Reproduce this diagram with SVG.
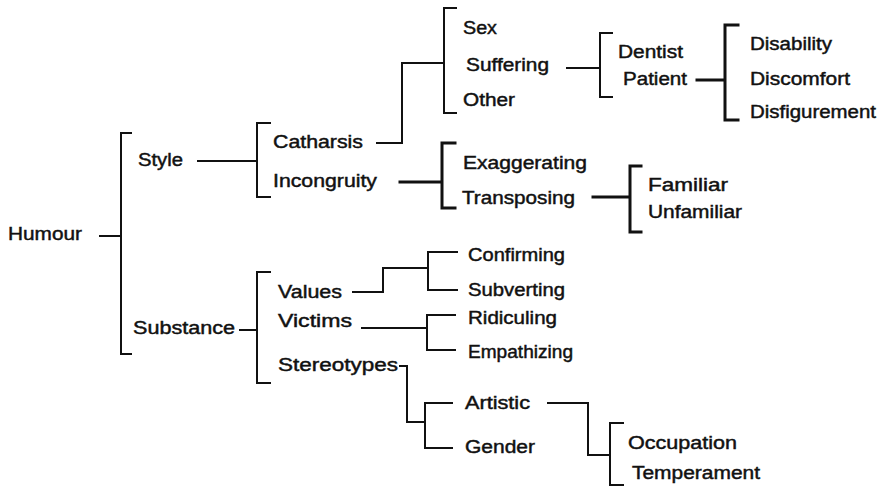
<svg xmlns="http://www.w3.org/2000/svg" width="886" height="487" viewBox="0 0 886 487">
<style>
text{font-family:"Liberation Sans",Arial,sans-serif;font-size:18px;fill:#111;stroke:#111;stroke-width:0.45}
.c{fill:none;stroke:#111;stroke-width:2;stroke-linecap:square;stroke-linejoin:miter}
.t{stroke-width:3}
</style>
<rect width="886" height="487" fill="#fff"/>
<g id="connectors">
<path class="c" d="M100,236H121M131,133H121V354H131"/>
<path class="c" d="M198,161H257M270,123H257V197H270"/>
<path class="c" d="M240,330H257M270,272H257V383H270"/>
<path class="c" d="M377,143H402V63H443M456,8H444V113H456"/>
<path class="c t" d="M400,182H442M455,143H442V208H455"/>
<path class="c" d="M567,68H600M612,33H600V97H612"/>
<path class="c t" d="M697,80H724M738,25H725V120H738"/>
<path class="c t" d="M593,197H630M641,166H630V232H641"/>
<path class="c" d="M353,292H383V268H428M457,252H428V290H457"/>
<path class="c" d="M362,328H427M455,315H427V350H455"/>
<path class="c" d="M400,366H407V422H425M452,403H425V448H452"/>
<path class="c" d="M548,403H588V455H610M623,423H610V485H623"/>
</g>
<g id="n-humour"><text x="8" y="240" textLength="74" lengthAdjust="spacingAndGlyphs">Humour</text></g>
<g id="n-style"><text x="138" y="166" textLength="45" lengthAdjust="spacingAndGlyphs">Style</text></g>
<g id="n-substance"><text x="133" y="334" textLength="102" lengthAdjust="spacingAndGlyphs">Substance</text></g>
<g id="n-catharsis"><text x="273" y="148" textLength="90" lengthAdjust="spacingAndGlyphs">Catharsis</text></g>
<g id="n-incongruity"><text x="273" y="187" textLength="104" lengthAdjust="spacingAndGlyphs">Incongruity</text></g>
<g id="n-sex"><text x="463" y="34" textLength="34" lengthAdjust="spacingAndGlyphs">Sex</text></g>
<g id="n-suffering"><text x="466" y="71" textLength="83" lengthAdjust="spacingAndGlyphs">Suffering</text></g>
<g id="n-other"><text x="463" y="106" textLength="52" lengthAdjust="spacingAndGlyphs">Other</text></g>
<g id="n-exaggerating"><text x="463" y="169" textLength="124" lengthAdjust="spacingAndGlyphs">Exaggerating</text></g>
<g id="n-transposing"><text x="462" y="204" textLength="113" lengthAdjust="spacingAndGlyphs">Transposing</text></g>
<g id="n-dentist"><text x="618" y="58" textLength="65" lengthAdjust="spacingAndGlyphs">Dentist</text></g>
<g id="n-patient"><text x="623" y="85" textLength="64" lengthAdjust="spacingAndGlyphs">Patient</text></g>
<g id="n-disability"><text x="750" y="50" textLength="82" lengthAdjust="spacingAndGlyphs">Disability</text></g>
<g id="n-discomfort"><text x="750" y="85" textLength="100" lengthAdjust="spacingAndGlyphs">Discomfort</text></g>
<g id="n-disfigurement"><text x="750" y="118" textLength="126" lengthAdjust="spacingAndGlyphs">Disfigurement</text></g>
<g id="n-familiar"><text x="648" y="191" textLength="80" lengthAdjust="spacingAndGlyphs">Familiar</text></g>
<g id="n-unfamiliar"><text x="648" y="218" textLength="94" lengthAdjust="spacingAndGlyphs">Unfamiliar</text></g>
<g id="n-values"><text x="278" y="298" textLength="64" lengthAdjust="spacingAndGlyphs">Values</text></g>
<g id="n-victims"><text x="278" y="327" textLength="74" lengthAdjust="spacingAndGlyphs">Victims</text></g>
<g id="n-stereotypes"><text x="278" y="371" textLength="120" lengthAdjust="spacingAndGlyphs">Stereotypes</text></g>
<g id="n-confirming"><text x="468" y="261" textLength="97" lengthAdjust="spacingAndGlyphs">Confirming</text></g>
<g id="n-subverting"><text x="468" y="296" textLength="97" lengthAdjust="spacingAndGlyphs">Subverting</text></g>
<g id="n-ridiculing"><text x="468" y="324" textLength="89" lengthAdjust="spacingAndGlyphs">Ridiculing</text></g>
<g id="n-empathizing"><text x="468" y="358" textLength="105" lengthAdjust="spacingAndGlyphs">Empathizing</text></g>
<g id="n-artistic"><text x="465" y="409" textLength="65" lengthAdjust="spacingAndGlyphs">Artistic</text></g>
<g id="n-gender"><text x="465" y="453" textLength="70" lengthAdjust="spacingAndGlyphs">Gender</text></g>
<g id="n-occupation"><text x="628" y="449" textLength="109" lengthAdjust="spacingAndGlyphs">Occupation</text></g>
<g id="n-temperament"><text x="632" y="479" textLength="128" lengthAdjust="spacingAndGlyphs">Temperament</text></g>
</svg>
